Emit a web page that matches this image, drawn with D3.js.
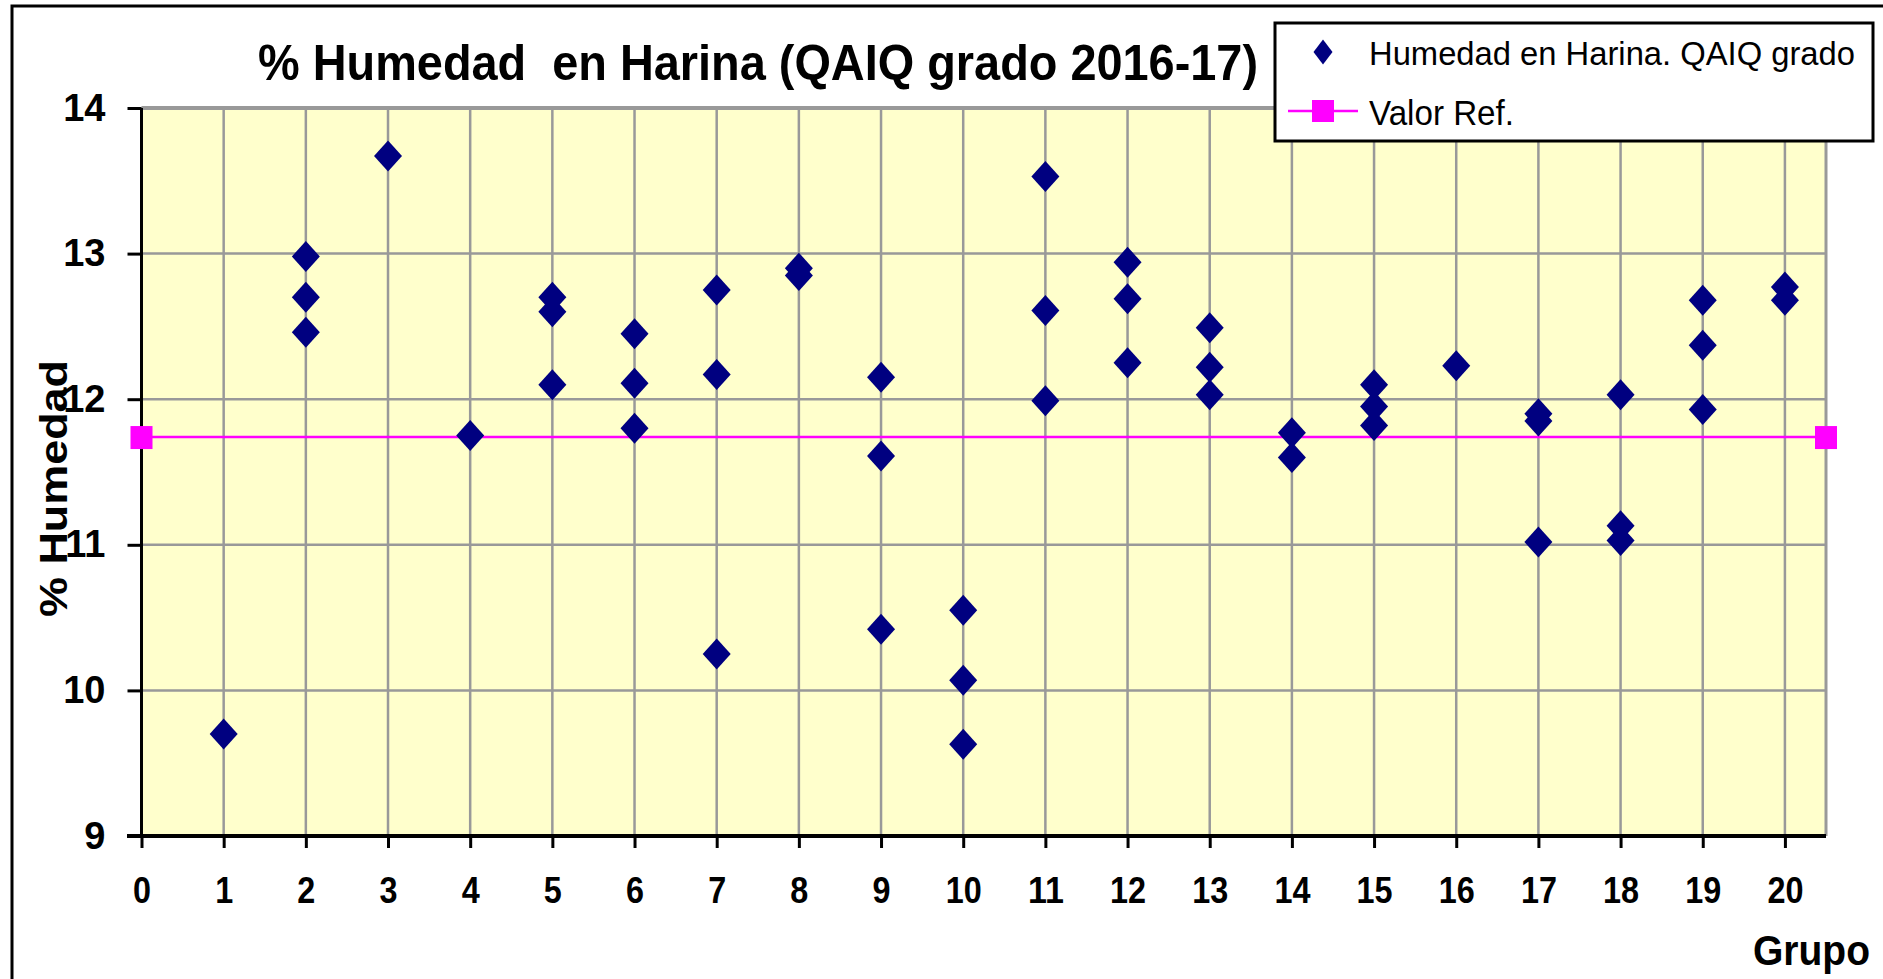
<!DOCTYPE html>
<html>
<head>
<meta charset="utf-8">
<script src="https://cdn.jsdelivr.net/npm/d3@7"></script>
<style>
    body { margin: 0; background: #fff; }
    text { font-family: "Liberation Sans", Arial, sans-serif; }
</style>
</head>
<body>
<svg id="chart" width="1883" height="979"></svg>
<script>
/** Data **/
var grupos = [1, 2, 2, 2, 3, 4, 5, 5, 5, 6, 6, 6, 7, 7, 7, 8, 8, 9, 9, 9, 10, 10, 10,
    11, 11, 11, 12, 12, 12, 13, 13, 13, 14, 14, 15, 15, 15, 16, 17, 17, 17, 18, 18, 18,
    19, 19, 19, 20, 20];
var humedad = [9.70, 12.98, 12.70, 12.46, 13.67, 11.75, 12.70, 12.60, 12.10, 12.45, 12.11, 11.80,
    12.75, 12.17, 10.25, 12.90, 12.85, 12.15, 11.61, 10.42, 10.55, 10.07, 9.63,
    13.53, 12.61, 11.99, 12.94, 12.69, 12.25, 12.49, 12.22, 12.03, 11.77, 11.60,
    12.10, 11.95, 11.82, 12.23, 11.90, 11.85, 11.02, 12.03, 11.13, 11.03,
    12.68, 12.37, 11.93, 12.77, 12.68];
var refGrupos = [0, 20.5];
var refValores = [11.74, 11.74];
var xTicks = d3.range(0, 21);
var yTicks = [9, 10, 11, 12, 13, 14];
var titulo = "% Humedad  en Harina (QAIQ grado 2016-17)";
var serieNombre = "Humedad en Harina. QAIQ grado";
var refNombre = "Valor Ref.";

var svg = d3.select("#chart");
var gridColor = "#999999";

/** Scales **/
var x = d3.scaleLinear().domain([0, 20.5]).range([141.5, 1826]);
var y = d3.scaleLinear().domain([9, 14]).range([836, 108]);

/** Outer chart border **/
svg.append("rect")
    .attr("x", 12).attr("y", 6)
    .attr("width", 1900).attr("height", 1000)
    .attr("fill", "none").attr("stroke", "#000").attr("stroke-width", 3);

/** Plot background **/
svg.append("rect")
    .attr("x", x(0)).attr("y", y(14))
    .attr("width", x(20.5) - x(0)).attr("height", y(9) - y(14))
    .attr("fill", "#FFFFCC");

/** Grid lines **/
var grid = svg.append("g");
grid.selectAll(".hgrid")
    .data(yTicks.filter(function(d){ return d > 9; }))
    .enter().append("line")
    .attr("x1", x(0)).attr("x2", x(20.5))
    .attr("y1", function(d){ return y(d); })
    .attr("y2", function(d){ return y(d); })
    .attr("stroke", gridColor)
    .attr("stroke-width", function(d){ return d === 14 ? 4 : 2.5; });
grid.selectAll(".vgrid")
    .data(xTicks.filter(function(d){ return d > 0; }).concat([20.5]))
    .enter().append("line")
    .attr("x1", function(d){ return x(d); })
    .attr("x2", function(d){ return x(d); })
    .attr("y1", y(14)).attr("y2", y(9))
    .attr("stroke", gridColor)
    .attr("stroke-width", function(d){ return d === 20.5 ? 3 : 2.5; });

/** Reference line **/
var refData = refGrupos.map(function(g, i){ return {g: g, v: refValores[i]}; });
var refLine = d3.line()
    .x(function(d){ return x(d.g); })
    .y(function(d){ return y(d.v); });
svg.append("path")
    .datum(refData)
    .attr("fill", "none")
    .attr("stroke", "#FF00FF")
    .attr("stroke-width", 2.5)
    .attr("d", refLine);

/** Data points (diamonds) **/
var diamond = "M0,-15.5L14,0L0,15.5L-14,0Z";
svg.append("g").selectAll("path")
    .data(grupos.map(function(g, i){ return {g: g, v: humedad[i]}; }))
    .enter().append("path")
    .attr("d", diamond)
    .attr("fill", "#000080")
    .attr("transform", function(d){ return "translate(" + x(d.g) + "," + y(d.v) + ")"; });

/** X axis **/
var xAxis = d3.axisBottom(x)
    .tickValues(xTicks)
    .tickSize(12)
    .tickFormat(d3.format("d"));
var gx = svg.append("g")
    .attr("transform", "translate(0," + y(9) + ")")
    .call(xAxis);
gx.select(".domain").remove();
gx.selectAll(".tick line").attr("stroke", "#000").attr("stroke-width", 3);
gx.selectAll(".tick text")
    .attr("y", 67).attr("dy", 0)
    .attr("fill", "#000")
    .style("font-size", "36px")
    .style("font-weight", "bold")
    .attr("textLength", function(d){ return String(d).length * 18; })
    .attr("lengthAdjust", "spacingAndGlyphs");
svg.append("line")
    .attr("x1", 127).attr("x2", x(20.5))
    .attr("y1", y(9)).attr("y2", y(9))
    .attr("stroke", "#000").attr("stroke-width", 4);

/** Y axis **/
var yAxis = d3.axisLeft(y)
    .tickValues(yTicks)
    .tickSize(14)
    .tickFormat(d3.format("d"));
var gy = svg.append("g")
    .attr("transform", "translate(" + x(0) + ",0)")
    .call(yAxis);
gy.select(".domain").remove();
gy.selectAll(".tick line").attr("stroke", "#000").attr("stroke-width", 3);
gy.selectAll(".tick text")
    .attr("x", -36)
    .attr("fill", "#000")
    .style("font-size", "38px")
    .style("font-weight", "bold");
svg.append("line")
    .attr("x1", x(0)).attr("x2", x(0))
    .attr("y1", y(14)).attr("y2", y(9))
    .attr("stroke", "#000").attr("stroke-width", 3);

/** Reference end markers **/
svg.append("g").selectAll("rect")
    .data(refData)
    .enter().append("rect")
    .attr("x", function(d){ return x(d.g) - 11; })
    .attr("y", function(d){ return y(d.v) - 11; })
    .attr("width", 22).attr("height", 23)
    .attr("fill", "#FF00FF");

/** Titles **/
svg.append("text")
    .text(titulo)
    .attr("x", 258).attr("y", 80)
    .style("font-size", "50px")
    .style("font-weight", "bold")
    .style("white-space", "pre")
    .attr("textLength", 1000)
    .attr("lengthAdjust", "spacingAndGlyphs");
svg.append("text")
    .text("Grupo")
    .attr("x", 1753).attr("y", 965)
    .style("font-size", "42px")
    .style("font-weight", "bold")
    .attr("textLength", 117)
    .attr("lengthAdjust", "spacingAndGlyphs");
svg.append("text")
    .text("% Humedad")
    .attr("transform", "translate(67,488.5) rotate(-90)")
    .style("text-anchor", "middle")
    .style("font-size", "38px")
    .style("font-weight", "bold")
    .attr("textLength", 257)
    .attr("lengthAdjust", "spacingAndGlyphs");

/** Legend **/
var legend = svg.append("g");
legend.append("rect")
    .attr("x", 1275).attr("y", 23)
    .attr("width", 598).attr("height", 118)
    .attr("fill", "#fff").attr("stroke", "#000").attr("stroke-width", 3);
legend.append("path")
    .attr("d", "M0,-12.5L9.5,0L0,12.5L-9.5,0Z")
    .attr("fill", "#000080")
    .attr("transform", "translate(1323,52)");
legend.append("text")
    .text(serieNombre)
    .attr("x", 1369).attr("y", 65)
    .style("font-size", "33px")
    .attr("textLength", 486)
    .attr("lengthAdjust", "spacingAndGlyphs");
legend.append("line")
    .attr("x1", 1288).attr("x2", 1358)
    .attr("y1", 111).attr("y2", 111)
    .attr("stroke", "#FF00FF").attr("stroke-width", 2.5);
legend.append("rect")
    .attr("x", 1312).attr("y", 100)
    .attr("width", 22).attr("height", 22)
    .attr("fill", "#FF00FF");
legend.append("text")
    .text(refNombre)
    .attr("x", 1369).attr("y", 125)
    .style("font-size", "35px")
    .attr("textLength", 145)
    .attr("lengthAdjust", "spacingAndGlyphs");
</script>
</body>
</html>
